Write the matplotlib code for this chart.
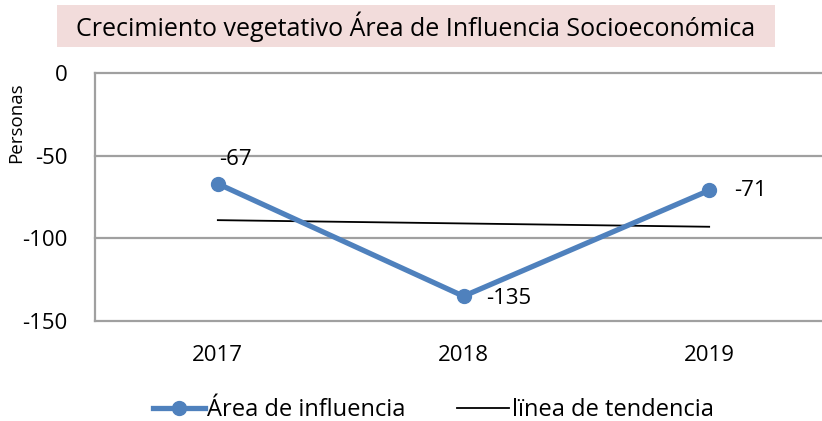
import matplotlib
matplotlib.use("Agg")
import matplotlib.pyplot as plt
from matplotlib.patches import Rectangle
from matplotlib.lines import Line2D
import numpy as np

years = ["2017", "2018", "2019"]
values = [-67, -135, -71]
yticks = [0, -50, -100, -150]
title = "Crecimiento vegetativo Área de Influencia Socioeconómica"
ylabel = "Personas"
series_name = "Área de influencia"
trend_name = "lïnea de tendencia"

plt.rcParams['font.family'] = ['Open Sans', 'DejaVu Sans']

W, H = 822, 421
fig = plt.figure(figsize=(W / 100, H / 100), dpi=100)

def fx(px):
    return px / W

def fy(py):
    return 1 - py / H

ax = fig.add_axes([fx(95), fy(321), fx(832) - fx(95), fy(73) - fy(321)])

x = np.arange(len(values))
blue = "#4F81BD"
grid_c = "#A0A0A0"

# trend line (linear regression)
coef = np.polyfit(x, values, 1)
trend = np.polyval(coef, x)
ax.plot(x, trend, color="black", lw=1.3, zorder=3)

ax.plot(x, values, color=blue, lw=3.8, marker="o", markersize=10, zorder=4)

ax.set_xlim(-0.5, 2.5)
ax.set_ylim(-150, 0)
ax.set_yticks(yticks)
ax.set_yticklabels([str(v) for v in yticks], fontsize=16)
ax.set_xticks(x)
ax.set_xticklabels(years, fontsize=16)
ax.tick_params(axis="both", length=0)
ax.tick_params(axis="y", pad=20)
ax.tick_params(axis="x", pad=17)

for yv in yticks:
    ax.axhline(yv, color=grid_c, lw=1.6, zorder=1, clip_on=False)

for s in ["top", "right"]:
    ax.spines[s].set_visible(False)
ax.spines["bottom"].set_visible(False)
ax.spines["left"].set_color(grid_c)
ax.spines["left"].set_linewidth(1.6)

# data labels
offsets = [(1, 10, "left", "bottom"), (16, -2, "left", "center"), (18, 0, "left", "center")]
for xi, v, (dx, dy, ha, va) in zip(x, values, offsets):
    ax.annotate(str(v), (xi, v), xytext=(dx, dy), textcoords="offset points",
                ha=ha, va=va, fontsize=16, zorder=5)

fig.text(fx(16), fy(123), ylabel, rotation=90, ha="center", va="center", fontsize=13.5)

# title box
fig.patches.append(Rectangle((fx(57), fy(47)), fx(775) - fx(57), fy(5) - fy(47),
                             transform=fig.transFigure, facecolor="#F2DCDB",
                             edgecolor="none", zorder=0))
fig.text(fx(416), fy(27), title, ha="center", va="center", fontsize=18)

handles = [Line2D([], [], color=blue, lw=3.8, marker="o", markersize=10),
           Line2D([], [], color="black", lw=1.3)]
fig.legend(handles, [series_name, trend_name], loc="center",
           bbox_to_anchor=(fx(433), fy(410)), ncol=2, frameon=False,
           fontsize=17, handlelength=2.2, handletextpad=0.1, columnspacing=2.2,
           borderaxespad=0)

fig.savefig("out.png", dpi=100)
